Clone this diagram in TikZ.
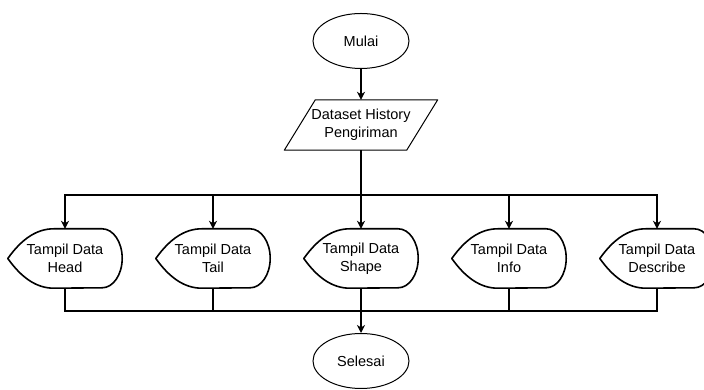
\documentclass[tikz,border=0pt]{standalone}
\usepackage{fontspec}
\setmainfont{Liberation Sans}
\usetikzlibrary{arrows.meta,shapes.geometric}

\begin{document}
\begin{tikzpicture}[x=1pt,y=1pt,
   every node/.style={font=\fontsize{14.5}{18}\selectfont,align=center},
   terminal/.style={draw,ellipse,line width=1pt,minimum width=96pt,minimum height=55pt,inner sep=0pt},
   io/.style={minimum width=122pt,minimum height=50pt,inner sep=0pt},
   display/.style={minimum width=114pt,minimum height=59pt,inner sep=0pt},
   thinline/.style={line width=1pt,line join=round},
   outline/.style={line width=1.6pt,line join=round},
   link/.style={line width=1.2pt},
   flow/.style={link,-{Stealth[length=8pt,width=8pt,inset=2.5pt]}}]
\useasboundingbox (0,0) rectangle (704,390);

\node[terminal] (mulai) at (361,349) {Mulai};
\node[io] (data) at (361,265) {Dataset History\\Pengiriman};

\node[display] (head) at (65,131.5) {Tampil Data\\Head};
\node[display] (tail) at (213,131.5) {Tampil Data\\Tail};
\node[display] (shape) at (361,131.5) {Tampil Data\\Shape};
\node[display] (info) at (509,131.5) {Tampil Data\\Info};
\node[display] (describe) at (657,131.5) {Tampil Data\\Describe};

\node[terminal] (selesai) at (361,29) {Selesai};

% input/output parallelogram
\draw[thinline] ([xshift=15.5pt]data.north west) -- ([xshift=15.5pt]data.north east)
  -- ([xshift=-15.5pt]data.south east) -- ([xshift=-15.5pt]data.south west) -- cycle;

% display outlines: pointed left side, rounded right side
\foreach \n in {head,tail,shape,info,describe}
  \draw[outline] (\n.west) .. controls ([shift={(14pt,-10pt)}]\n.north west) and ([xshift=29pt]\n.north west) .. ([xshift=46pt]\n.north west)
    -- ([xshift=-20pt]\n.north east) arc[start angle=90,end angle=-90,x radius=20pt,y radius=29.5pt]
    -- ([xshift=46pt]\n.south west) .. controls ([xshift=29pt]\n.south west) and ([shift={(14pt,10pt)}]\n.south west) .. (\n.west) -- cycle;

\coordinate (split) at (361,195);
\coordinate (join) at (361,79);

\draw[flow] (mulai) -- (data);
\draw[flow] (data.south) -- (split) -| (head.north);
\draw[flow] (data.south) -- (split) -| (tail.north);
\draw[flow] (data.south) -- (shape.north);
\draw[flow] (data.south) -- (split) -| (info.north);
\draw[flow] (data.south) -- (split) -| (describe.north);

\draw[link] (head.south) |- (join);
\draw[link] (tail.south) |- (join);
\draw[link] (info.south) |- (join);
\draw[link] (describe.south) |- (join);
\draw[flow] (shape.south) -- (selesai);
\end{tikzpicture}
\end{document}
